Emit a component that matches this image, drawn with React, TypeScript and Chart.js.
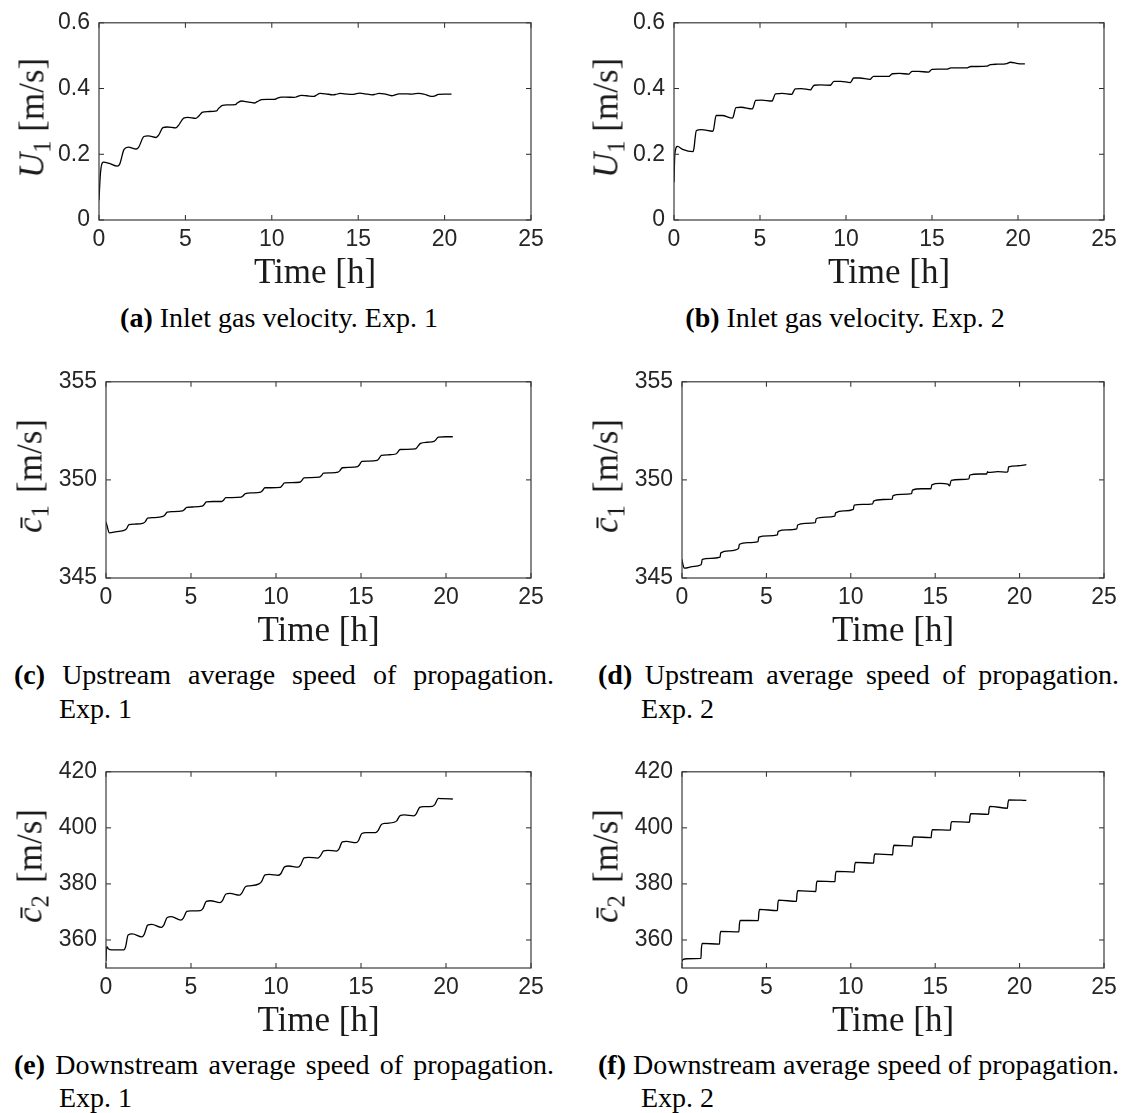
import React, { useEffect, useRef } from "react";
import { Chart, registerables } from "chart.js";
Chart.register(...registerables);

// ---------------- data ----------------
const xTickValues = [0, 5, 10, 15, 20, 25];
const xTickLabels = ["0", "5", "10", "15", "20", "25"];

const u1TickValues = [0, 0.2, 0.4, 0.6];
const u1TickLabels = ["0", "0.2", "0.4", "0.6"];
const c1TickValues = [345, 350, 355];
const c1TickLabels = ["345", "350", "355"];
const c2TickValues = [360, 380, 400, 420];
const c2TickLabels = ["360", "380", "400", "420"];

// (a) Inlet gas velocity, Exp. 1
const timeA = [0, 0.08, 0.25, 0.6, 1.05, 1.2, 1.45, 1.7, 2.15, 2.3, 2.6, 2.85, 3.3, 3.45, 3.7, 3.95, 4.45, 4.6, 4.9, 5.15, 5.6, 5.75, 6.0, 6.3, 6.8, 6.9, 7.15, 7.4, 7.9, 8.0, 8.25, 8.5, 9.0, 9.15, 9.4, 9.7, 10.15, 10.3, 10.55, 10.8, 11.3, 11.45, 11.7, 12.0, 12.45, 12.55, 12.8, 13.1, 13.55, 13.7, 13.95, 14.2, 14.7, 14.85, 15.1, 15.4, 15.8, 15.95, 16.2, 16.5, 16.95, 17.1, 17.35, 17.6, 18.1, 18.25, 18.5, 18.8, 19.25, 19.4, 19.65, 20.0, 20.4];
const u1Exp1 = [0.06, 0.14, 0.176, 0.172, 0.164, 0.17, 0.215, 0.222, 0.216, 0.222, 0.254, 0.256, 0.251, 0.258, 0.281, 0.283, 0.28, 0.288, 0.31, 0.312, 0.309, 0.315, 0.328, 0.33, 0.332, 0.338, 0.349, 0.35, 0.351, 0.356, 0.362, 0.36, 0.356, 0.36, 0.366, 0.367, 0.367, 0.37, 0.374, 0.374, 0.373, 0.375, 0.379, 0.378, 0.376, 0.379, 0.385, 0.384, 0.381, 0.382, 0.385, 0.384, 0.382, 0.384, 0.386, 0.384, 0.381, 0.382, 0.385, 0.384, 0.378, 0.38, 0.384, 0.384, 0.383, 0.384, 0.385, 0.383, 0.376, 0.377, 0.382, 0.383, 0.383];

// (b) Inlet gas velocity, Exp. 2
const timeB = [0, 0.05, 0.2, 0.5, 1.1, 1.15, 1.3, 1.6, 2.25, 2.3, 2.45, 2.8, 3.4, 3.45, 3.6, 3.9, 4.55, 4.6, 4.75, 5.1, 5.7, 5.75, 5.9, 6.3, 6.85, 6.9, 7.05, 7.4, 7.95, 8.0, 8.15, 8.5, 9.1, 9.15, 9.3, 9.7, 10.25, 10.3, 10.45, 10.8, 11.4, 11.45, 11.6, 12.0, 12.5, 12.55, 12.7, 13.1, 13.65, 13.7, 13.85, 14.2, 14.8, 14.85, 15.0, 15.4, 15.9, 15.95, 16.1, 16.5, 17.05, 17.1, 17.25, 17.6, 18.2, 18.25, 18.4, 18.8, 19.35, 19.4, 19.55, 20.0, 20.4];
const u1Exp2 = [0.115, 0.2, 0.224, 0.215, 0.208, 0.215, 0.272, 0.275, 0.27, 0.275, 0.318, 0.318, 0.31, 0.315, 0.342, 0.343, 0.338, 0.342, 0.364, 0.365, 0.362, 0.366, 0.384, 0.385, 0.382, 0.386, 0.399, 0.4, 0.396, 0.4, 0.41, 0.411, 0.41, 0.413, 0.422, 0.422, 0.418, 0.421, 0.432, 0.432, 0.428, 0.43, 0.437, 0.437, 0.437, 0.439, 0.445, 0.446, 0.444, 0.446, 0.452, 0.452, 0.45, 0.452, 0.458, 0.459, 0.459, 0.46, 0.463, 0.463, 0.463, 0.464, 0.467, 0.467, 0.468, 0.469, 0.473, 0.474, 0.476, 0.477, 0.48, 0.476, 0.475];

// (c) Upstream average speed of propagation, Exp. 1
const timeC = [0, 0.05, 0.2, 0.6, 1.1, 1.2, 1.35, 1.7, 2.2, 2.3, 2.45, 2.8, 3.35, 3.45, 3.6, 3.9, 4.5, 4.6, 4.75, 5.1, 5.65, 5.75, 5.9, 6.3, 6.8, 6.9, 7.05, 7.4, 7.95, 8.05, 8.2, 8.6, 9.1, 9.2, 9.35, 9.7, 10.25, 10.35, 10.5, 10.9, 11.4, 11.5, 11.65, 12.0, 12.55, 12.65, 12.8, 13.2, 13.65, 13.75, 13.9, 14.3, 14.8, 14.9, 15.05, 15.4, 15.95, 16.05, 16.2, 16.6, 17.05, 17.15, 17.3, 17.7, 18.2, 18.3, 18.5, 18.9, 19.3, 19.4, 19.55, 20.0, 20.4];
const c1Exp1 = [347.85, 347.7, 347.3, 347.36, 347.44, 347.5, 347.72, 347.75, 347.8, 347.86, 348.05, 348.08, 348.14, 348.2, 348.36, 348.38, 348.42, 348.48, 348.6, 348.62, 348.66, 348.72, 348.88, 348.9, 348.9, 348.95, 349.1, 349.1, 349.12, 349.18, 349.3, 349.34, 349.38, 349.45, 349.6, 349.6, 349.62, 349.7, 349.85, 349.86, 349.88, 349.95, 350.1, 350.12, 350.14, 350.2, 350.34, 350.36, 350.4, 350.46, 350.62, 350.64, 350.68, 350.76, 350.94, 350.96, 351.0, 351.08, 351.25, 351.28, 351.32, 351.4, 351.55, 351.56, 351.58, 351.66, 351.86, 351.92, 351.96, 352.04, 352.18, 352.2, 352.2];

// (d) Upstream average speed of propagation, Exp. 2
const timeD = [0, 0.05, 0.15, 0.6, 1.1, 1.15, 1.2, 1.7, 2.25, 2.3, 2.8, 3.35, 3.4, 3.9, 4.5, 4.55, 5.1, 5.65, 5.7, 6.2, 6.8, 6.85, 7.3, 7.9, 7.95, 8.5, 9.05, 9.1, 9.6, 10.15, 10.2, 10.7, 11.3, 11.35, 11.9, 12.45, 12.5, 13.0, 13.6, 13.65, 14.2, 14.75, 14.8, 15.3, 15.75, 15.85, 15.95, 16.5, 17.0, 17.05, 17.6, 18.05, 18.1, 18.15, 18.7, 19.25, 19.3, 19.35, 19.9, 20.4];
const c1Exp2 = [345.95, 345.7, 345.5, 345.58, 345.66, 345.72, 345.95, 346.0, 346.06, 346.28, 346.38, 346.5, 346.72, 346.8, 346.85, 347.08, 347.15, 347.2, 347.38, 347.45, 347.5, 347.7, 347.78, 347.82, 348.02, 348.1, 348.15, 348.32, 348.42, 348.5, 348.72, 348.75, 348.78, 348.92, 349.0, 349.02, 349.2, 349.26, 349.3, 349.48, 349.55, 349.55, 349.75, 349.82, 349.78, 349.7, 349.98, 350.02, 350.05, 350.25, 350.3, 350.3, 350.42, 350.38, 350.42, 350.4, 350.42, 350.66, 350.72, 350.78];

// (e) Downstream average speed of propagation, Exp. 1
const timeE = [0, 0.04, 0.15, 0.35, 1.05, 1.15, 1.3, 1.55, 2.1, 2.25, 2.45, 2.7, 3.25, 3.4, 3.6, 3.85, 4.4, 4.55, 4.75, 5.0, 5.55, 5.7, 5.9, 6.15, 6.7, 6.85, 7.05, 7.3, 7.85, 8.0, 8.2, 8.45, 9.0, 9.15, 9.35, 9.6, 10.15, 10.3, 10.5, 10.75, 11.3, 11.45, 11.65, 11.9, 12.45, 12.6, 12.8, 13.05, 13.55, 13.7, 13.9, 14.15, 14.7, 14.85, 15.05, 15.3, 15.85, 16.0, 16.2, 16.45, 16.95, 17.1, 17.3, 17.55, 18.1, 18.25, 18.45, 18.7, 19.2, 19.35, 19.55, 19.8, 20.4];
const c2Exp1 = [352.5, 357.6, 356.8, 356.5, 356.5, 357.5, 361.8, 362.2, 361.1, 362.0, 365.3, 365.6, 364.5, 365.3, 368.0, 368.3, 367.1, 367.8, 370.2, 370.4, 370.5, 371.2, 373.8, 374.0, 373.3, 374.0, 376.4, 376.6, 376.0, 376.8, 379.0, 379.3, 380.0, 380.8, 383.2, 383.4, 383.1, 383.8, 386.1, 386.4, 386.0, 386.8, 389.3, 389.5, 389.2, 389.9, 391.8, 392.0, 391.7, 392.4, 395.0, 395.2, 394.7, 395.4, 398.0, 398.3, 398.3, 399.0, 401.2, 401.6, 402.0, 402.5, 404.4, 404.6, 404.3, 405.0, 407.3, 407.6, 407.7, 408.4, 410.5, 410.4, 410.3];

// (f) Downstream average speed of propagation, Exp. 2
const timeF = [0, 0.05, 0.3, 1.12, 1.15, 1.2, 2.22, 2.25, 2.3, 3.37, 3.4, 3.45, 4.52, 4.55, 4.6, 5.65, 5.68, 5.73, 6.78, 6.81, 6.86, 7.93, 7.96, 8.01, 9.06, 9.09, 9.14, 10.2, 10.23, 10.28, 11.35, 11.38, 11.43, 12.48, 12.51, 12.56, 13.63, 13.66, 13.71, 14.76, 14.79, 14.84, 15.9, 15.93, 15.98, 17.03, 17.06, 17.11, 18.16, 18.19, 18.24, 19.28, 19.31, 19.36, 20.4];
const c2Exp2 = [352.3, 353.0, 353.3, 353.4, 357.0, 358.8, 358.5, 361.5, 363.1, 362.9, 365.5, 367.0, 366.9, 369.5, 370.9, 370.5, 373.0, 374.2, 373.8, 376.2, 377.6, 377.3, 379.8, 381.0, 380.8, 383.2, 384.5, 384.2, 386.5, 387.7, 387.4, 389.6, 390.7, 390.4, 392.6, 393.8, 393.5, 395.6, 396.8, 396.5, 398.4, 399.4, 399.2, 401.2, 402.2, 402.0, 404.0, 405.1, 404.8, 406.6, 407.7, 407.0, 408.8, 410.0, 409.8];

// ---------------- layout / style ----------------
const SERIF = "'Liberation Serif', 'DejaVu Serif', serif";
const SANS = "'Liberation Sans', Arial, Helvetica, sans-serif";
const AXIS_COLOR = "#262626";
const Y_BOX_W = 70;
const PAD_TOP = 15;
const PAD_RIGHT = 22;
const X_BOX_H = 71;

const boxPlugin = {
  id: "matlabBox",
  afterDraw(chart: any, _args: any, opts: any) {
    const { ctx, chartArea: a, scales } = chart;
    const xs = scales.x;
    const ys = scales.y;
    const L = 5;
    ctx.save();
    ctx.strokeStyle = AXIS_COLOR;
    ctx.lineWidth = 1;
    ctx.beginPath();
    for (const v of opts.xTicks) {
      const px = xs.getPixelForValue(v);
      ctx.moveTo(px, a.bottom);
      ctx.lineTo(px, a.bottom - L);
      ctx.moveTo(px, a.top);
      ctx.lineTo(px, a.top + L);
    }
    for (const v of opts.yTicks) {
      const py = ys.getPixelForValue(v);
      ctx.moveTo(a.left, py);
      ctx.lineTo(a.left + L, py);
      ctx.moveTo(a.right, py);
      ctx.lineTo(a.right - L, py);
    }
    ctx.stroke();
    ctx.lineWidth = 1.2;
    ctx.strokeStyle = "#3a3a3a";
    ctx.strokeRect(a.left, a.top, a.right - a.left, a.bottom - a.top);
    ctx.restore();
  },
};

type PanelDef = {
  id: string;
  times: number[];
  values: number[];
  yMin: number;
  yMax: number;
  yTicks: number[];
  yTickLabels: string[];
  plot: { l: number; t: number; r: number; b: number };
  yLabelX: number;
  yLabel: React.ReactNode;
};

const U1Label = (
  <span>
    <span style={{ fontStyle: "italic" }}>U</span>
    <span style={{ fontSize: "0.7em", position: "relative", top: "0.28em" }}>1</span>
    <span> [m/s]</span>
  </span>
);
const C1Label = (
  <span>
    <span style={{ fontStyle: "italic" }}>{"c\u0304"}</span>
    <span style={{ fontSize: "0.7em", position: "relative", top: "0.28em" }}>1</span>
    <span style={{ marginLeft: "0.35em" }}>[m/s]</span>
  </span>
);
const C2Label = (
  <span>
    <span style={{ fontStyle: "italic" }}>{"c\u0304"}</span>
    <span style={{ fontSize: "0.7em", position: "relative", top: "0.28em" }}>2</span>
    <span style={{ marginLeft: "0.35em" }}>[m/s]</span>
  </span>
);

const panels: PanelDef[] = [
  { id: "a", times: timeA, values: u1Exp1, yMin: 0, yMax: 0.6, yTicks: u1TickValues, yTickLabels: u1TickLabels, plot: { l: 99, t: 15, r: 531, b: 220 }, yLabelX: 34, yLabel: U1Label },
  { id: "b", times: timeB, values: u1Exp2, yMin: 0, yMax: 0.6, yTicks: u1TickValues, yTickLabels: u1TickLabels, plot: { l: 674, t: 15, r: 1104, b: 220 }, yLabelX: 608, yLabel: U1Label },
  { id: "c", times: timeC, values: c1Exp1, yMin: 345, yMax: 355, yTicks: c1TickValues, yTickLabels: c1TickLabels, plot: { l: 106, t: 374, r: 531, b: 578 }, yLabelX: 32, yLabel: C1Label },
  { id: "d", times: timeD, values: c1Exp2, yMin: 345, yMax: 355, yTicks: c1TickValues, yTickLabels: c1TickLabels, plot: { l: 682, t: 374, r: 1104, b: 578 }, yLabelX: 608, yLabel: C1Label },
  { id: "e", times: timeE, values: c2Exp1, yMin: 350, yMax: 420, yTicks: c2TickValues, yTickLabels: c2TickLabels, plot: { l: 106, t: 764, r: 531, b: 968 }, yLabelX: 32, yLabel: C2Label },
  { id: "f", times: timeF, values: c2Exp2, yMin: 350, yMax: 420, yTicks: c2TickValues, yTickLabels: c2TickLabels, plot: { l: 682, t: 764, r: 1104, b: 968 }, yLabelX: 608, yLabel: C2Label },
];

function PanelChart({ p }: { p: PanelDef }) {
  const ref = useRef<HTMLCanvasElement | null>(null);
  const w = Y_BOX_W + (p.plot.r - p.plot.l) + PAD_RIGHT;
  const h = PAD_TOP + (p.plot.b - p.plot.t) + X_BOX_H;
  useEffect(() => {
    if (!ref.current) return;
    const chart = new Chart(ref.current, {
      type: "line",
      data: {
        datasets: [
          {
            data: p.times.map((t, i) => ({ x: t, y: p.values[i] })),
            borderColor: "#000000",
            borderWidth: 1.3,
            pointRadius: 0,
            fill: false,
            cubicInterpolationMode: "monotone",
          },
        ],
      },
      options: {
        animation: false,
        responsive: false,
        devicePixelRatio: 1,
        events: [],
        layout: { padding: { top: PAD_TOP, right: PAD_RIGHT, left: 0, bottom: 0 } },
        plugins: {
          legend: { display: false },
          tooltip: { enabled: false },
          matlabBox: { xTicks: xTickValues, yTicks: p.yTicks },
        } as any,
        scales: {
          x: {
            type: "linear",
            min: 0,
            max: 25,
            grid: { display: false, drawTicks: false },
            border: { display: false },
            afterBuildTicks: (s: any) => {
              s.ticks = xTickValues.map((v) => ({ value: v }));
            },
            afterFit: (s: any) => {
              s.height = X_BOX_H;
            },
            ticks: {
              autoSkip: false,
              maxRotation: 0,
              padding: 6,
              color: AXIS_COLOR,
              font: { family: SANS, size: 23 },
              callback: (_v: any, i: number) => xTickLabels[i],
            },
            title: {
              display: true,
              text: "Time [h]",
              color: "#1a1a1a",
              padding: 0,
              font: { family: SERIF, size: 35, lineHeight: 1 },
            },
          },
          y: {
            type: "linear",
            min: p.yMin,
            max: p.yMax,
            grid: { display: false, drawTicks: false },
            border: { display: false },
            afterBuildTicks: (s: any) => {
              s.ticks = p.yTicks.map((v) => ({ value: v }));
            },
            afterFit: (s: any) => {
              s.width = Y_BOX_W;
            },
            ticks: {
              autoSkip: false,
              padding: 9,
              color: AXIS_COLOR,
              font: { family: SANS, size: 23 },
              callback: (_v: any, i: number) => p.yTickLabels[i],
            },
          },
        },
      } as any,
      plugins: [boxPlugin],
    });
    return () => chart.destroy();
  }, [p]);
  return (
    <>
      <canvas
        ref={ref}
        width={w}
        height={h}
        style={{ position: "absolute", left: p.plot.l - Y_BOX_W, top: p.plot.t - PAD_TOP, width: w, height: h }}
      />
      <div
        style={{
          position: "absolute",
          left: p.yLabelX,
          top: (p.plot.t + p.plot.b) / 2,
          transform: "translate(-50%, -50%) rotate(-90deg)",
          whiteSpace: "nowrap",
          fontFamily: SERIF,
          fontSize: 35,
          lineHeight: "40px",
          color: "#1a1a1a",
        }}
      >
        {p.yLabel}
      </div>
    </>
  );
}

const captionFont: React.CSSProperties = {
  position: "absolute",
  fontFamily: SERIF,
  fontSize: 28,
  lineHeight: "34px",
  color: "#000",
  whiteSpace: "nowrap",
};

function CenterCaption({ cx, cy, label, text }: { cx: number; cy: number; label: string; text: string }) {
  return (
    <div style={{ ...captionFont, left: cx - 300, top: cy - 17, width: 600, textAlign: "center" }}>
      <b>({label})</b> {text}
    </div>
  );
}

function TwoLineCaption({ x0, x1, indent, cy1, cy2, label, line1, line2 }: { x0: number; x1: number; indent: number; cy1: number; cy2: number; label: string; line1: string; line2: string }) {
  return (
    <>
      <div
        style={{
          ...captionFont,
          whiteSpace: "normal",
          left: x0,
          top: cy1 - 17,
          width: x1 - x0,
          height: 34,
          textAlign: "justify",
          textAlignLast: "justify" as any,
        }}
      >
        <b>({label})</b> {line1}
      </div>
      <div style={{ ...captionFont, left: indent, top: cy2 - 17 }}>{line2}</div>
    </>
  );
}

export default function App() {
  return (
    <div style={{ position: "absolute", left: 0, top: 0, width: 1126, height: 1113, background: "#ffffff", overflow: "hidden" }}>
      {panels.map((p) => (
        <PanelChart key={p.id} p={p} />
      ))}
      <CenterCaption cx={279} cy={318} label="a" text="Inlet gas velocity. Exp. 1" />
      <CenterCaption cx={845} cy={318} label="b" text="Inlet gas velocity. Exp. 2" />
      <TwoLineCaption x0={14} x1={554} indent={59} cy1={675} cy2={709} label="c" line1="Upstream average speed of propagation." line2="Exp. 1" />
      <TwoLineCaption x0={598} x1={1119} indent={641} cy1={675} cy2={709} label="d" line1="Upstream average speed of propagation." line2="Exp. 2" />
      <TwoLineCaption x0={14} x1={554} indent={59} cy1={1065} cy2={1098} label="e" line1="Downstream average speed of propagation." line2="Exp. 1" />
      <TwoLineCaption x0={598} x1={1119} indent={641} cy1={1065} cy2={1098} label="f" line1="Downstream average speed of propagation." line2="Exp. 2" />
    </div>
  );
}
